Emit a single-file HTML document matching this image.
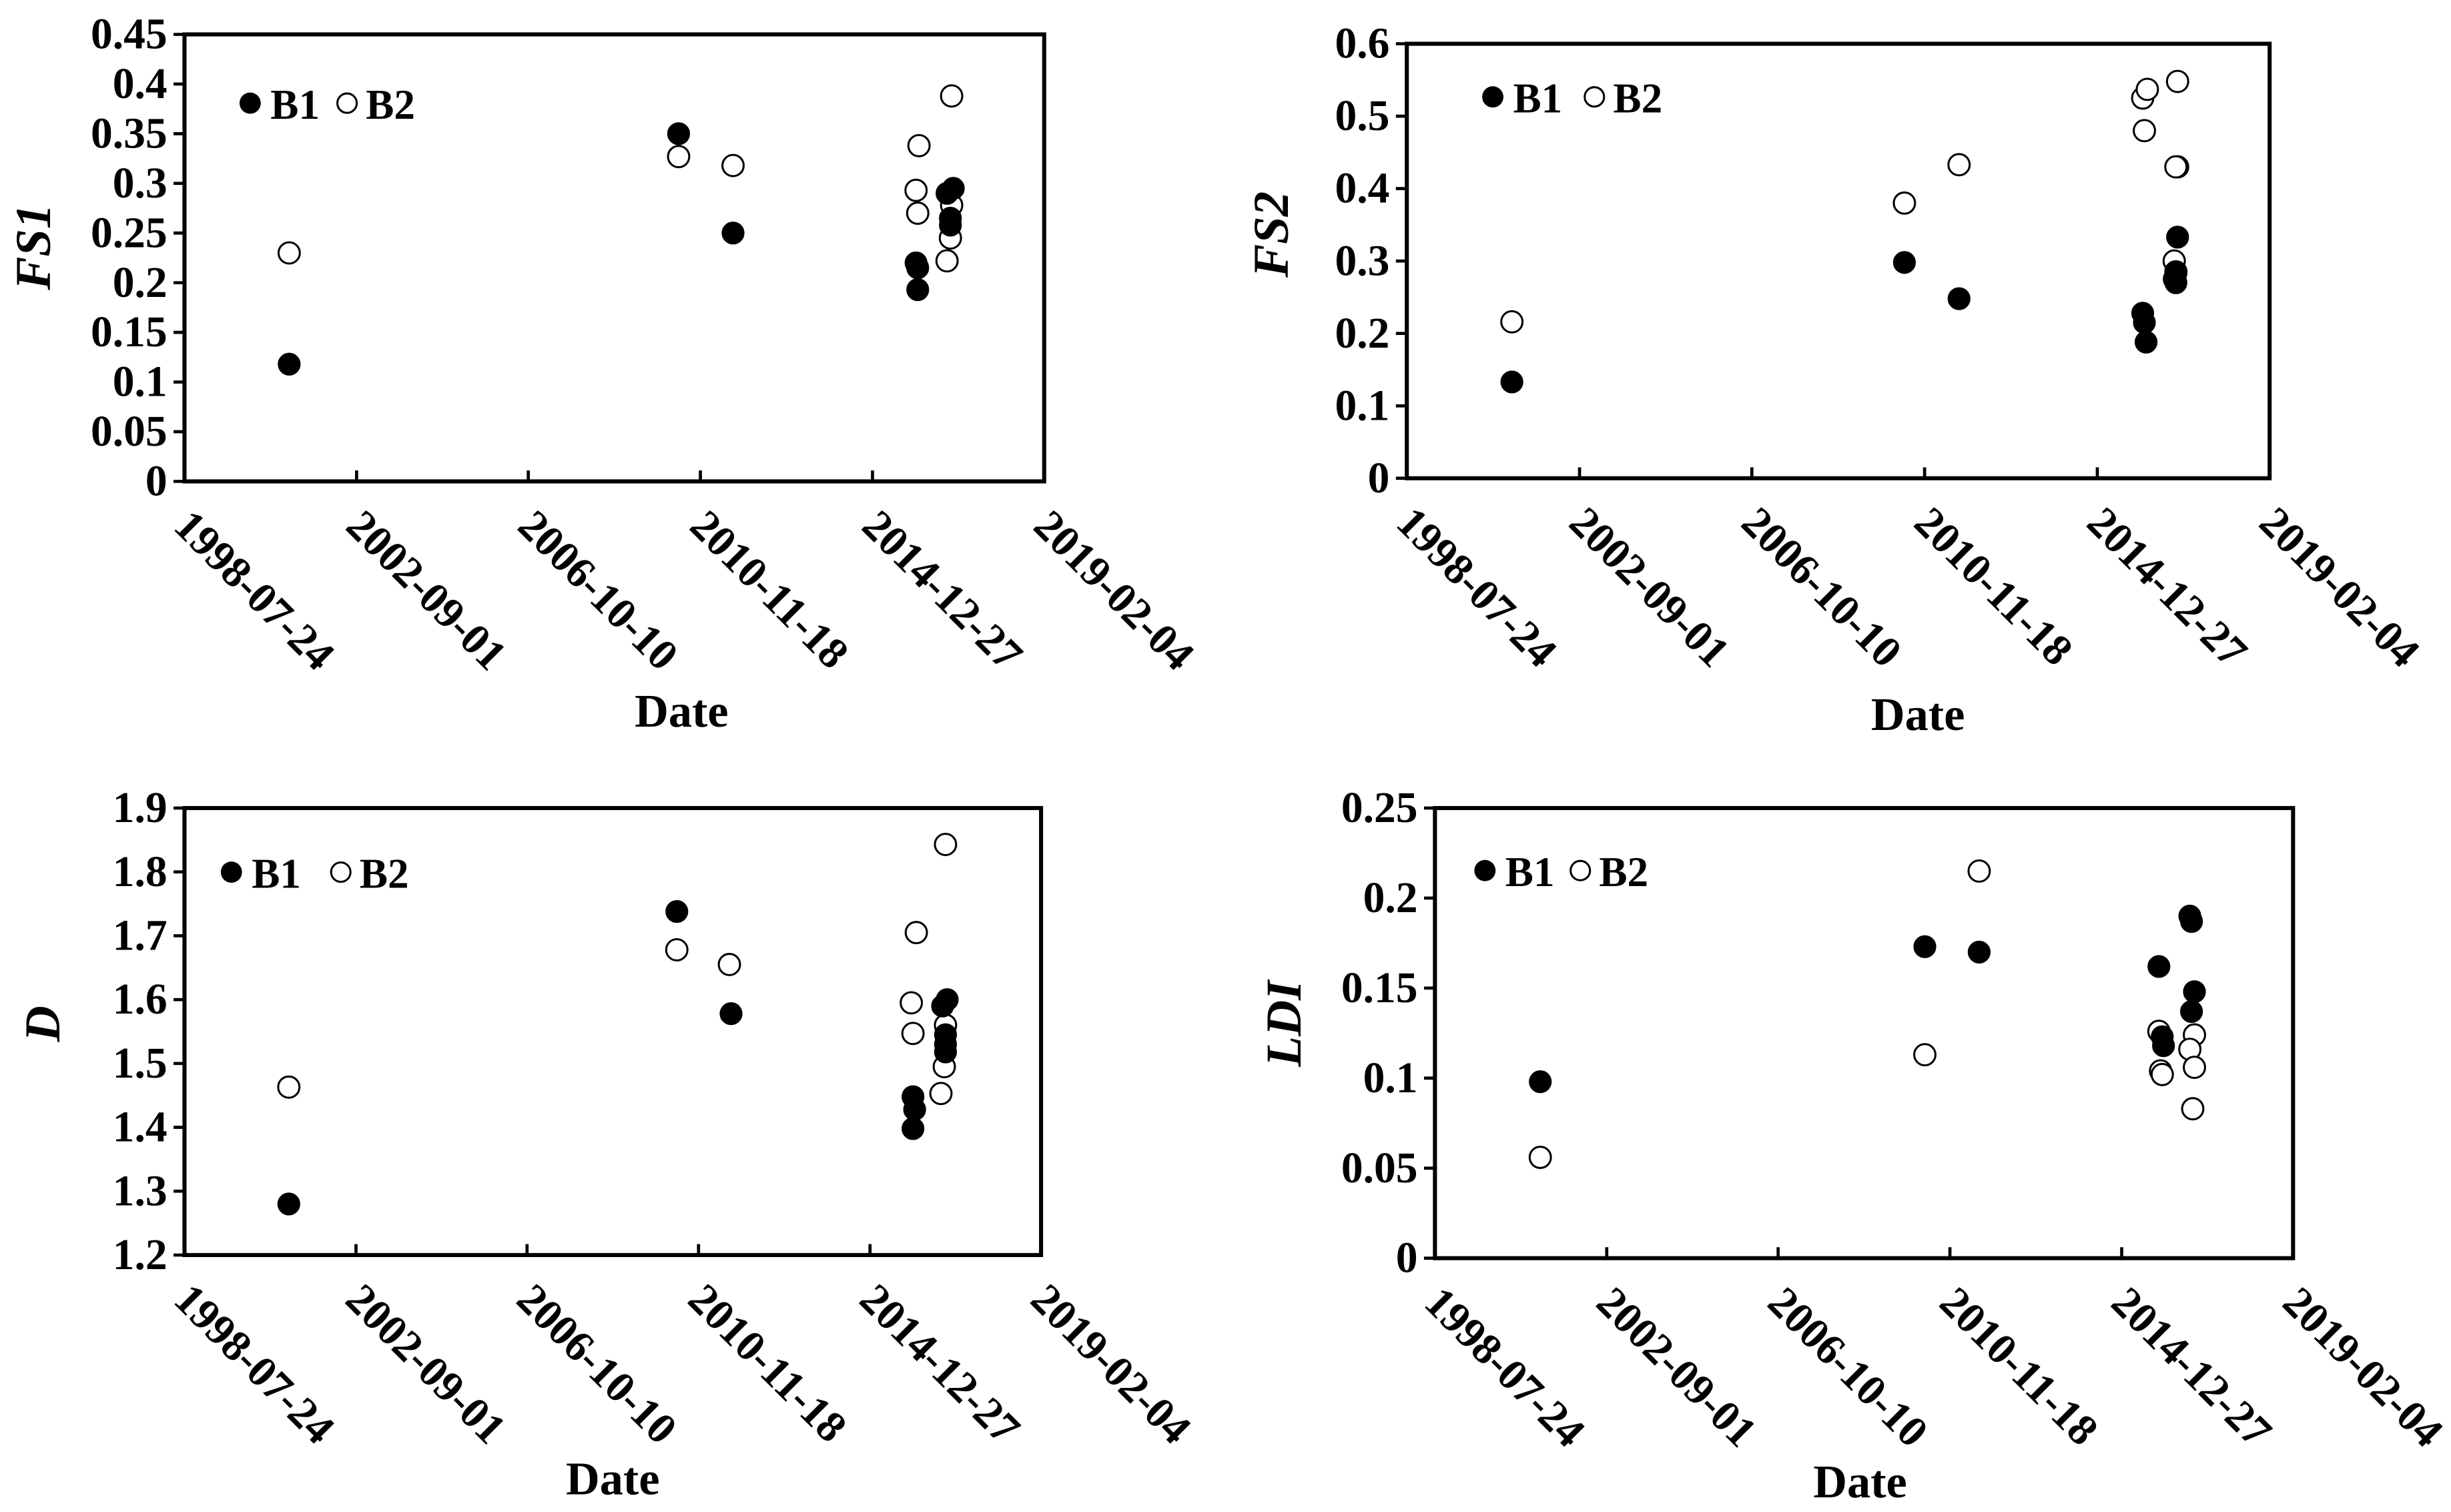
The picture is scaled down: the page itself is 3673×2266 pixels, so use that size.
<!DOCTYPE html>
<html><head><meta charset="utf-8">
<style>
html,body{margin:0;padding:0;background:#fff;}
svg{display:block;font-family:"Liberation Serif",serif;font-weight:bold;}
</style></head>
<body>
<svg id="chart" xmlns="http://www.w3.org/2000/svg" width="3673" height="2266" viewBox="0 0 1568 967.4"></svg>
<script>
// Shared x tick labels (dates) and their year positions
const xTickLabels = ["1998-07-24","2002-09-01","2006-10-10","2010-11-18","2014-12-27","2019-02-04"];
const xTickYears = [1998.56, 2002.67, 2006.77, 2010.88, 2014.99, 2019.09];

// Panel FS1
const fs1B1Dates = [2001.06, 2010.36, 2011.66, 2016.03, 2016.07, 2016.07, 2016.77, 2016.92, 2016.85, 2016.85];
const fs1B1Values = [0.118, 0.35, 0.25, 0.22, 0.215, 0.193, 0.29, 0.295, 0.265, 0.258];
const fs1B2Dates = [2001.06, 2010.36, 2011.66, 2016.1, 2016.03, 2016.07, 2016.88, 2016.88, 2016.85, 2016.77];
const fs1B2Values = [0.23, 0.327, 0.318, 0.338, 0.293, 0.27, 0.388, 0.278, 0.245, 0.222];
const fs1Ticks = [0,0.05,0.1,0.15,0.2,0.25,0.3,0.35,0.4,0.45];
const fs1TickLabels = ["0","0.05","0.1","0.15","0.2","0.25","0.3","0.35","0.4","0.45"];

// Panel FS2
const fs2B1Dates = [2001.06, 2010.4, 2011.7, 2016.07, 2016.11, 2016.15, 2016.9, 2016.86, 2016.82, 2016.86];
const fs2B1Values = [0.133, 0.298, 0.248, 0.228, 0.215, 0.188, 0.333, 0.283, 0.275, 0.27];
const fs2B2Dates = [2001.06, 2010.4, 2011.7, 2016.07, 2016.18, 2016.11, 2016.9, 2016.9, 2016.86, 2016.82, 2016.86];
const fs2B2Values = [0.216, 0.38, 0.433, 0.525, 0.537, 0.48, 0.548, 0.43, 0.43, 0.3, 0.285];
const fs2Ticks = [0,0.1,0.2,0.3,0.4,0.5,0.6];
const fs2TickLabels = ["0","0.1","0.2","0.3","0.4","0.5","0.6"];

// Panel D
const dB1Dates = [2001.06, 2010.36, 2011.66, 2016.02, 2016.06, 2016.02, 2016.84, 2016.73, 2016.8, 2016.8, 2016.8];
const dB1Values = [1.28, 1.738, 1.578, 1.448, 1.428, 1.398, 1.6, 1.59, 1.545, 1.53, 1.518];
const dB2Dates = [2001.06, 2010.36, 2011.62, 2016.1, 2015.98, 2016.02, 2016.8, 2016.8, 2016.77, 2016.69];
const dB2Values = [1.463, 1.678, 1.655, 1.705, 1.595, 1.547, 1.843, 1.56, 1.495, 1.453];
const dTicks = [1.2,1.3,1.4,1.5,1.6,1.7,1.8,1.9];
const dTickLabels = ["1.2","1.3","1.4","1.5","1.6","1.7","1.8","1.9"];

// Panel LDI
const ldiB1Dates = [2001.08, 2010.28, 2011.58, 2015.88, 2015.96, 2015.99, 2016.62, 2016.66, 2016.73, 2016.66];
const ldiB1Values = [0.098, 0.173, 0.17, 0.162, 0.123, 0.118, 0.19, 0.187, 0.148, 0.137];
const ldiB2Dates = [2001.08, 2010.28, 2011.58, 2015.88, 2015.92, 2015.96, 2016.73, 2016.62, 2016.73, 2016.69];
const ldiB2Values = [0.056, 0.113, 0.215, 0.126, 0.104, 0.102, 0.124, 0.116, 0.106, 0.083];
const ldiTicks = [0,0.05,0.1,0.15,0.2,0.25];
const ldiTickLabels = ["0","0.05","0.1","0.15","0.2","0.25"];

const NS = "http://www.w3.org/2000/svg";
const svg = document.getElementById("chart");
function mk(tag, attrs, parent){
  const e = document.createElementNS(NS, tag);
  for (const k in attrs) e.setAttribute(k, attrs[k]);
  (parent||svg).appendChild(e);
  return e;
}

function drawPanel(id, box, yTicks, yLabels, yTitle, b1d, b1v, b2d, b2v, legend, dateTitle, yTitlePos){
  const g = mk("g", {});
  
  
  const ymin = yTicks[0], ymax = yTicks[yTicks.length-1];
  const xmin = xTickYears[0], xmax = xTickYears[xTickYears.length-1];
  const xs = v => box.x + (v - xmin) / (xmax - xmin) * box.w;
  const ys = v => box.y + box.h - (v - ymin) / (ymax - ymin) * box.h;

  const frame = mk("rect", {x:box.x, y:box.y, width:box.w, height:box.h, fill:"none", stroke:"#000", "stroke-width":2.6}, g);
  
  

  yTicks.forEach((t, i) => {
    const y = ys(t);
    const tk = mk("line", {x1:box.x-7, x2:box.x, y1:y, y2:y, stroke:"#000", "stroke-width":2}, g);
    
    
    const tl = mk("text", {x:box.x-11, y:y+9, "text-anchor":"end", "font-size":28}, g);
    tl.textContent = yLabels[i];
    
    
  });

  xTickYears.forEach((t, i) => {
    const x = xs(t);
    const tk = mk("line", {x1:x, x2:x, y1:box.y+box.h-7, y2:box.y+box.h, stroke:"#000", "stroke-width":2}, g);
    
    
    const tx = x - 8, ty = box.y + box.h + 30;
    const tl = mk("text", {x:tx, y:ty, "font-size":28, transform:"rotate(45 "+tx+" "+ty+")"}, g);
    tl.textContent = xTickLabels[i];
    
    
  });

  const xt = mk("text", {x:dateTitle.x, y:dateTitle.y, "text-anchor":"middle", "font-size":30}, g);
  xt.textContent = "Date";
  
  

  const yt = mk("text", {x:yTitlePos.x, y:yTitlePos.y, "text-anchor":"middle", "font-size":32, "font-style":"italic", transform:"rotate(-90 "+yTitlePos.x+" "+yTitlePos.y+")"}, g);
  yt.textContent = yTitle;
  
  

  b2d.forEach((d, i) => {
    const c = mk("circle", {cx:xs(d), cy:ys(b2v[i]), r:6.8, fill:"#fff", stroke:"#000", "stroke-width":1.3}, g);
    
    
  });
  b1d.forEach((d, i) => {
    const c = mk("circle", {cx:xs(d), cy:ys(b1v[i]), r:6.8, fill:"#000", stroke:"#000", "stroke-width":1}, g);
    
    
  });

  const l1 = mk("circle", {cx:legend.x1, cy:legend.y, r:6.8, fill:"#000"}, g);
  
  
  const lt1 = mk("text", {x:legend.x1+13, y:legend.y+10, "font-size":27}, g);
  lt1.textContent = "B1";
  
  
  const l2 = mk("circle", {cx:legend.x2, cy:legend.y, r:6.2, fill:"#fff", stroke:"#000", "stroke-width":1.3}, g);
  
  
  const lt2 = mk("text", {x:legend.x2+12, y:legend.y+10, "font-size":27}, g);
  lt2.textContent = "B2";
  
  
}

drawPanel("fs1", {x:118,y:22,w:550,h:286}, fs1Ticks, fs1TickLabels, "FS1",
  fs1B1Dates, fs1B1Values, fs1B2Dates, fs1B2Values, {x1:160,x2:222,y:66}, {x:436,y:465}, {x:32,y:158});
drawPanel("fs2", {x:900,y:28,w:552,h:278}, fs2Ticks, fs2TickLabels, "FS2",
  fs2B1Dates, fs2B1Values, fs2B2Dates, fs2B2Values, {x1:955,x2:1020,y:62}, {x:1227,y:467}, {x:824,y:150});
drawPanel("d", {x:118,y:517,w:548,h:286}, dTicks, dTickLabels, "D",
  dB1Dates, dB1Values, dB2Dates, dB2Values, {x1:148,x2:218,y:558}, {x:392,y:956}, {x:38,y:655});
drawPanel("ldi", {x:918,y:517,w:549,h:288}, ldiTicks, ldiTickLabels, "LDI",
  ldiB1Dates, ldiB1Values, ldiB2Dates, ldiB2Values, {x1:950,x2:1011,y:557}, {x:1190,y:958}, {x:832,y:655});
</script>
</body></html>
